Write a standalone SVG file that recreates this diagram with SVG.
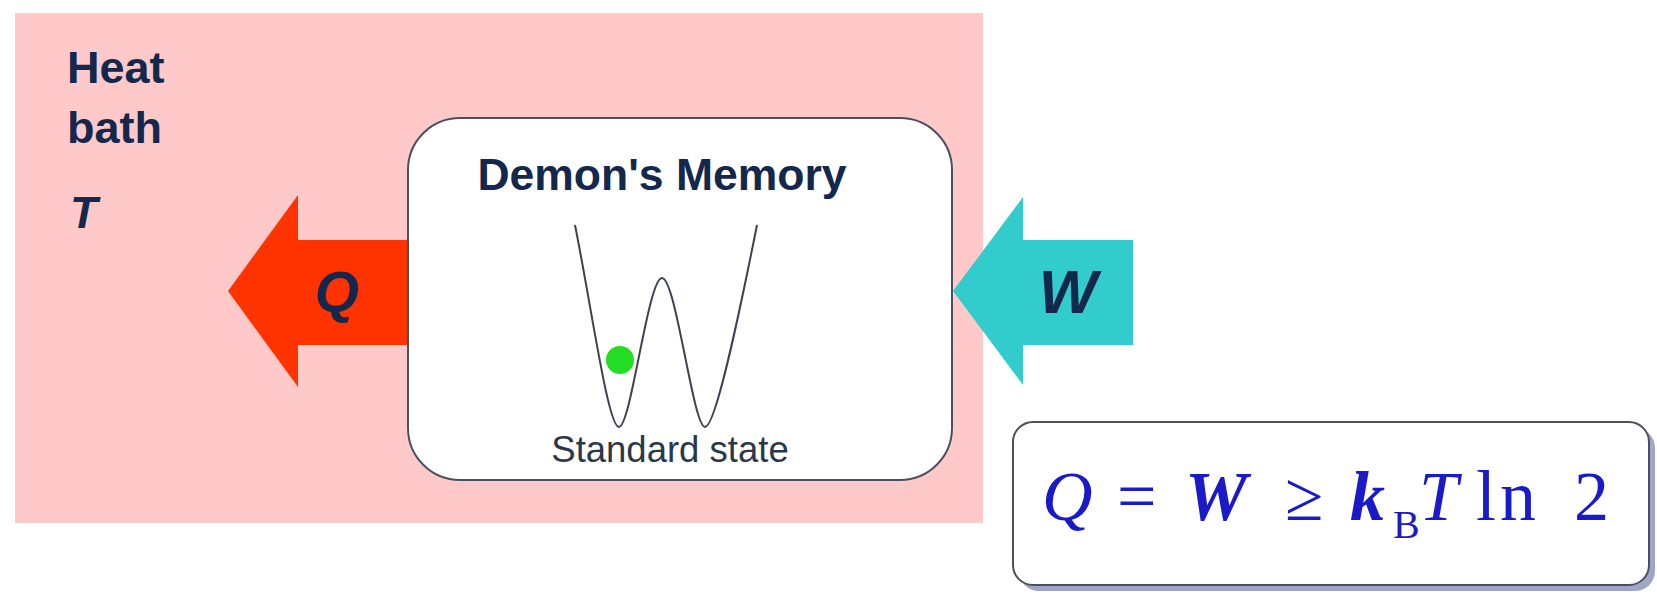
<svg xmlns="http://www.w3.org/2000/svg" width="1657" height="596" viewBox="0 0 1657 596">
<style>
.navy{fill:#13284c;font-family:"Liberation Sans",Arial,sans-serif;font-weight:bold}
.box{fill:#ffffff;stroke:#4a505e;stroke-width:2}
.math{font-family:"Liberation Serif","Times New Roman",serif;font-size:70px;fill:#1a1ac8}
</style>
<rect width="1657" height="596" fill="#ffffff"/>
<g id="heat-bath">
<rect x="15" y="13" width="968" height="510" fill="#ffc9c9"/>
<text class="navy" x="67" y="83" font-size="45">Heat</text>
<text class="navy" x="67" y="143" font-size="45">bath</text>
<text class="navy" x="70" y="228" font-size="45" font-style="italic">T</text>
</g>
<g id="connectors">
<g id="arrow-Q">
<polygon points="228,291 298,195 298,240 408,240 408,345 298,345 298,387" fill="#ff3300"/>
<text class="navy" x="337" y="312" font-size="57" font-style="italic" text-anchor="middle">Q</text>
</g>
<g id="arrow-W">
<polygon points="953,291 1023,197 1023,240 1133,240 1133,345 1023,345 1023,385" fill="#33cccc"/>
<text class="navy" x="1068" y="313" font-size="62" font-style="italic" text-anchor="middle">W</text>
</g>
</g>
<g id="demon-memory">
<rect class="box" x="408" y="118" width="544" height="362" rx="52" ry="52"/>
<text class="navy" x="662" y="190" font-size="44.5" text-anchor="middle">Demon's Memory</text>
<path d="M575,225 C592,310 608,427 619,427 C631,427 648,278 662,278 C676,278 693,427 705,427 C716,427 740,310 757,225" fill="none" stroke="#3c4452" stroke-width="2"/>
<circle cx="620" cy="360" r="14" fill="#22dd22"/>
<text x="670" y="462" font-family="Liberation Sans,Arial,sans-serif" font-size="36.5" fill="#2a3848" text-anchor="middle">Standard state</text>
</g>
<g id="formula">
<rect x="1019" y="428" width="636" height="163" rx="20" ry="20" fill="#a2a6c6"/>
<rect class="box" x="1013" y="422" width="636" height="163" rx="20" ry="20"/>
<text class="math" y="520"><tspan x="1042" font-style="italic">Q</tspan><tspan x="1117">=</tspan><tspan x="1185" font-style="italic" font-weight="bold">W</tspan><tspan x="1285">≥</tspan><tspan x="1350" font-style="italic" font-weight="bold">k</tspan><tspan x="1393" y="538" font-size="40">B</tspan><tspan x="1419" y="520" font-style="italic">T</tspan><tspan x="1476" font-size="72" letter-spacing="4">ln</tspan><tspan x="1574">2</tspan></text>
</g>
</svg>
